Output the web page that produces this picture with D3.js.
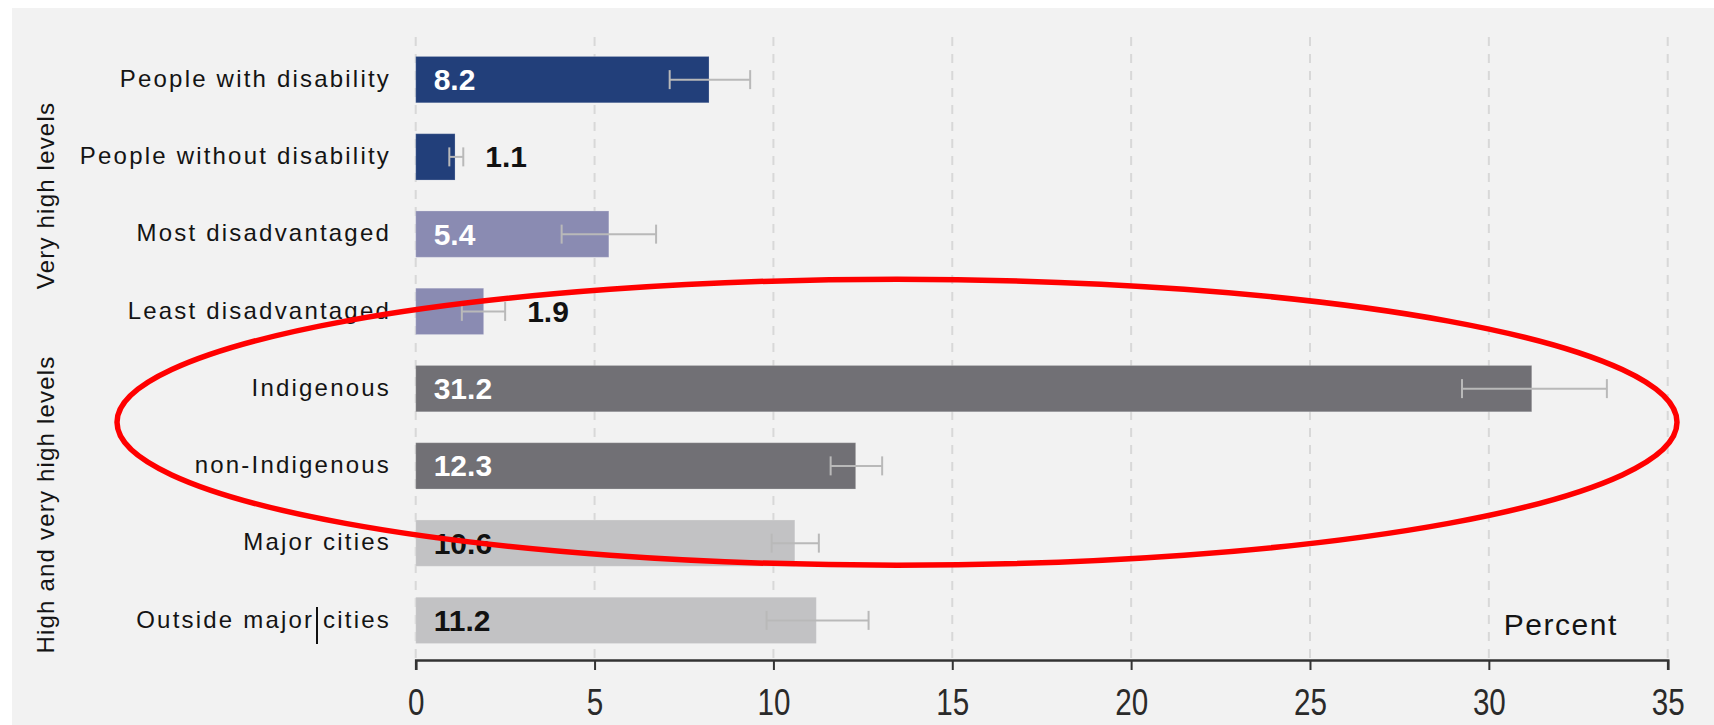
<!DOCTYPE html>
<html>
<head>
<meta charset="utf-8">
<script src="https://cdn.jsdelivr.net/npm/d3@7"></script>
<style>
  html, body { margin: 0; padding: 0; background: #ffffff; }
  svg { display: block; }
  text { font-family: "Liberation Sans", Arial, sans-serif; }
</style>
</head>
<body>
<svg id="chart" width="1714" height="725"></svg>
<script>
// Psychological distress by population group (percent, with 95% confidence intervals)
const categories = [
  "People with disability",
  "People without disability",
  "Most disadvantaged",
  "Least disadvantaged",
  "Indigenous",
  "non-Indigenous",
  "Major cities",
  "Outside major cities"
];
const values  = [8.2, 1.1, 5.4, 1.9, 31.2, 12.3, 10.6, 11.2];
const errLow  = [7.1, 0.94, 4.08, 1.29, 29.25, 11.6, 9.95, 9.81];
const errHigh = [9.35, 1.33, 6.72, 2.5, 33.3, 13.04, 11.27, 12.66];

// Row groups shown on the left edge
const groupNames = ["Very high levels", "High and very high levels"];
const groupOf = [0, 0, 0, 0, 1, 1, 1, 1];

// Colour pair index for each row
const pairOf = [0, 0, 1, 1, 2, 2, 3, 3];
const barColors   = ["#223f7a", "#8a8bb2", "#717075", "#c2c2c4"];
const labelColors = ["#ffffff", "#ffffff", "#ffffff", "#111111"];

const xTicks = [0, 5, 10, 15, 20, 25, 30, 35];
const xTitle = "Percent";
const highlighted = ["Indigenous", "non-Indigenous"];

const svg = d3.select("#chart");
const W = 1714, H = 725;

// panel background
svg.append("rect").attr("x", 12).attr("y", 8)
  .attr("width", W - 12).attr("height", H - 8)
  .attr("fill", "#f2f2f2");

const x = d3.scaleLinear().domain([0, 35]).range([415.7, 1667.7]);
const y = d3.scaleBand().domain(categories)
  .range([41, 659]).paddingInner(0.4).paddingOuter(0.2);
const axisY = 660;

// dashed vertical grid
svg.append("g").selectAll("line").data(xTicks).join("line")
  .attr("x1", d => x(d)).attr("x2", d => x(d))
  .attr("y1", 37).attr("y2", axisY)
  .attr("stroke", "#d8d8d8").attr("stroke-width", 2)
  .attr("stroke-dasharray", "9,8");

const rows = categories.map((c, i) => ({
  c, v: values[i], lo: errLow[i], hi: errHigh[i],
  pair: pairOf[i], g: groupOf[i]
}));

// bars
svg.append("g").selectAll("rect").data(rows).join("rect")
  .attr("x", x(0))
  .attr("y", d => y(d.c))
  .attr("width", d => x(d.v) - x(0))
  .attr("height", y.bandwidth())
  .attr("fill", d => barColors[d.pair])
  .attr("stroke", "rgba(255,255,255,0.22)")
  .attr("stroke-width", 1);

// confidence interval whiskers
const err = svg.append("g").attr("stroke", "#b9b9b9").attr("stroke-width", 2).attr("fill", "none");
rows.forEach(d => {
  const cy = y(d.c) + y.bandwidth() / 2;
  err.append("line").attr("x1", x(d.lo)).attr("x2", x(d.hi)).attr("y1", cy).attr("y2", cy);
  err.append("line").attr("x1", x(d.lo)).attr("x2", x(d.lo)).attr("y1", cy - 9.5).attr("y2", cy + 9.5);
  err.append("line").attr("x1", x(d.hi)).attr("x2", x(d.hi)).attr("y1", cy - 9.5).attr("y2", cy + 9.5);
});

// value labels: inside the bar when it is wide enough, otherwise after the whisker
svg.append("g").selectAll("text").data(rows).join("text")
  .attr("x", d => d.v > 3 ? x(0) + 18 : x(d.hi) + 22)
  .attr("y", d => y(d.c) + y.bandwidth() / 2)
  .attr("dy", "0.35em")
  .attr("font-size", 30)
  .attr("font-weight", "bold")
  .attr("fill", d => d.v > 3 ? labelColors[d.pair] : "#111111")
  .text(d => d3.format(".1f")(d.v));

// category labels
svg.append("g").selectAll("text").data(rows).join("text")
  .attr("x", 391)
  .attr("y", d => y(d.c) + y.bandwidth() / 2)
  .attr("dy", "0.3em")
  .attr("text-anchor", "end")
  .attr("font-size", 24)
  .attr("letter-spacing", 2.2)
  .attr("fill", "#141414")
  .text(d => d.c);

// group labels, rotated, centred on their rows
groupNames.forEach((name, gi) => {
  const members = rows.filter(r => r.g === gi);
  const top = y(members[0].c) + y.bandwidth() / 2;
  const bot = y(members[members.length - 1].c) + y.bandwidth() / 2;
  svg.append("text")
    .attr("transform", `translate(54,${(top + bot) / 2}) rotate(-90)`)
    .attr("text-anchor", "middle")
    .attr("font-size", 24)
    .attr("letter-spacing", 1.2)
    .attr("fill", "#141414")
    .text(name);
});

// x axis
const xAxis = d3.axisBottom(x).tickValues(xTicks).tickSize(10).tickSizeOuter(10).tickPadding(19)
  .tickFormat(d3.format("d"));
const ax = svg.append("g").attr("transform", `translate(0,${axisY})`).call(xAxis);
ax.select(".domain").attr("stroke", "#333333").attr("stroke-width", 2.6);
ax.selectAll(".tick line").attr("stroke", "#333333").attr("stroke-width", 2);
// tall, condensed tick numerals
ax.selectAll(".tick text")
  .attr("font-family", "'Liberation Sans Narrow', 'Arial Narrow', 'Liberation Sans', sans-serif")
  .attr("font-size", 37)
  .attr("transform", "scale(0.8,1)")
  .attr("fill", "#2a2a2a");

// axis title
svg.append("text")
  .attr("x", x(30) + 15).attr("y", 635)
  .attr("font-size", 30)
  .attr("letter-spacing", 1.5)
  .attr("fill", "#141414")
  .text(xTitle);

// text cursor mark in the last label
svg.append("line")
  .attr("x1", 317).attr("x2", 317).attr("y1", 607).attr("y2", 644)
  .attr("stroke", "#111111").attr("stroke-width", 2);

// red ellipse highlighting the Indigenous comparison
const hlTop = y(highlighted[0]);
const hlBot = y(highlighted[1]) + y.bandwidth();
svg.append("ellipse")
  .attr("cx", 897).attr("cy", (hlTop + hlBot) / 2 - 5)
  .attr("rx", 780).attr("ry", 143)
  .attr("fill", "none")
  .attr("stroke", "#ff0000")
  .attr("stroke-width", 5.5);
</script>
</body>
</html>
